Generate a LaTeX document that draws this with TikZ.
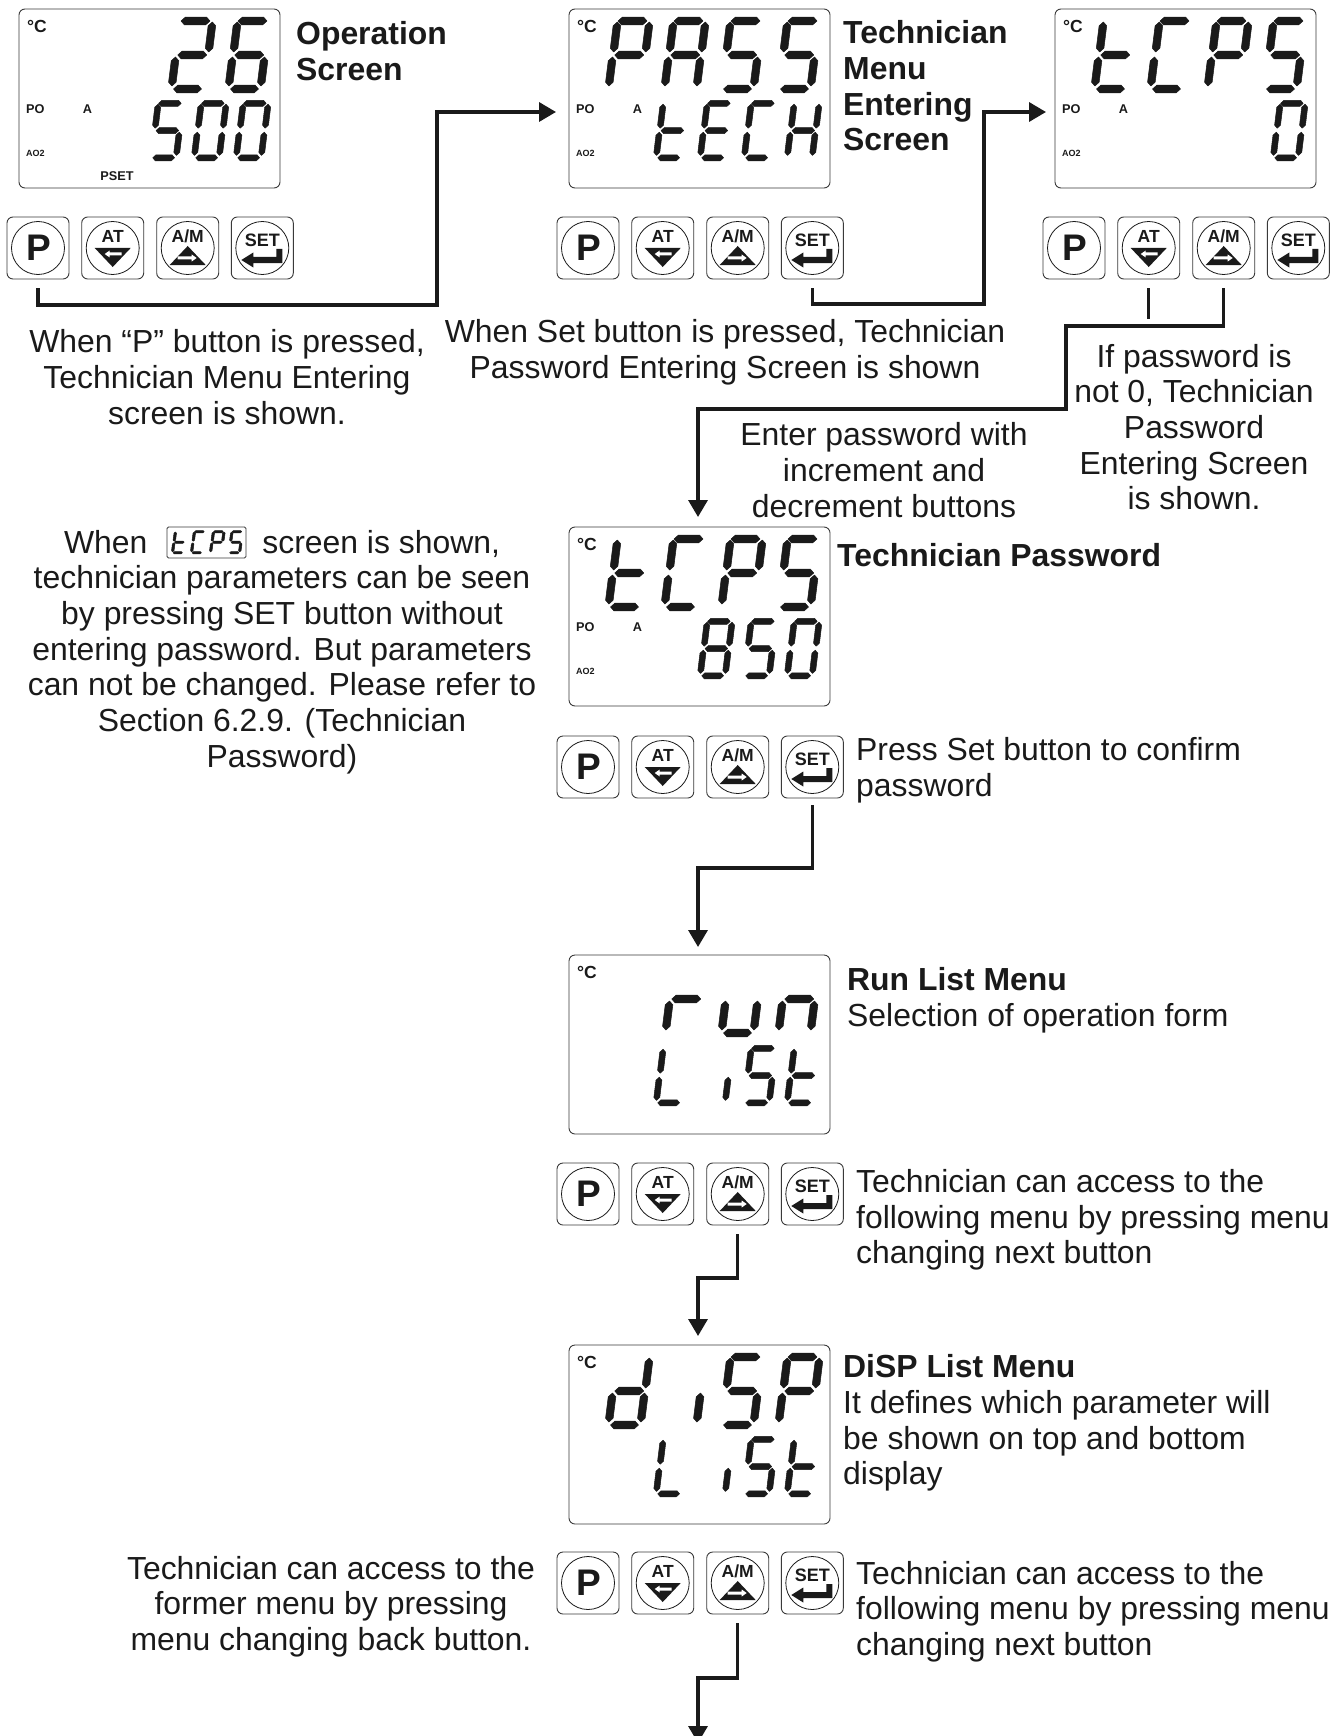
\documentclass[tikz,border=0pt]{standalone}
\usepackage{fontspec}
\setmainfont{Liberation Sans}
\usetikzlibrary{arrows.meta,positioning,calc}
\definecolor{ink}{HTML}{1A1A1A}
\definecolor{rim}{HTML}{3A3A3A}
\newcommand\lcdh[3]{(#1,#3)--(#1+3.8,#3+3.8)--(#2-3.8,#3+3.8)--(#2,#3)--(#2-3.8,#3-3.8)--(#1+3.8,#3-3.8)--cycle}
\newcommand\lcdv[3]{(#1,#2)--(#1+3.8,#2+3.8)--(#1+3.8,#3-3.8)--(#1,#3)--(#1-3.8,#3-3.8)--(#1-3.8,#2+3.8)--cycle}
\newcommand\lcda{\lcdh{2}{31}{72}}
\newcommand\lcdg{\lcdh{3}{32}{38}}
\newcommand\lcdd{\lcdh{3}{31}{4}}
\newcommand\lcdf{\lcdv{1.5}{41}{71}}
\newcommand\lcdb{\lcdv{33.5}{41}{71}}
\newcommand\lcde{\lcdv{1}{7}{36}}
\newcommand\lcdc{\lcdv{33}{7}{36}}
% \dgt{x}{baseline}{xscale}{yscale}{segments}
\newcommand\dgt[5]{\begin{scope}[shift={(#1,#2)},x=1pt,y=1pt,xscale=#3,yscale=#4,xslant=.125]
  \foreach \sgm in {#5}{\filldraw[ink,line width=.5pt,line join=round] \csname lcd\sgm\endcsname;}
\end{scope}}
\newcommand\bigd[2]{\dgt{#1}{#2}{1}{1}}
\newcommand\lowd[2]{\dgt{#1}{#2}{.78}{.8}}
\tikzset{
  lcdbox/.style={draw=rim,line width=.9pt,rounded corners=6pt,minimum width=261pt,minimum height=179pt,inner sep=0pt,fill=white},
  keybox/.style={draw=rim,line width=.9pt,rounded corners=6pt,minimum width=62pt,minimum height=62pt,inner sep=0pt},
  keyring/.style={draw=ink,line width=.8pt,circle,minimum size=53pt,inner sep=0pt},
  conn/.style={draw=ink,line width=3.4pt,miter limit=10},
  startgap/.style={shorten <=9pt},
  tip/.style={-{Triangle[length=17pt,width=19pt]}},
  body/.style={inner sep=0pt,font=\fontsize{31.9}{35.7}\selectfont,text=ink},
  bodyc/.style={body,align=center},
  bodyl/.style={body,align=left,anchor=west},
  head/.style={bodyl,font=\fontsize{31.9}{35.7}\selectfont\bfseries},
  hd/.style={inner sep=0pt,font=\fontsize{17.5}{20}\selectfont\bfseries,text=ink},
  small/.style={inner sep=0pt,font=\fontsize{12.7}{14}\selectfont\bfseries,text=ink},
  tiny/.style={inner sep=0pt,font=\fontsize{9}{10}\selectfont\bfseries,text=ink},
}
% \panel{prefix}{x}{y}
\newcommand\panel[3]{%
  \node[keybox] (#1P) at (#2+31,#3+31) {};
  \node[keybox] (#1AT) at (#2+105.7,#3+31) {};
  \node[keybox] (#1AM) at (#2+180.7,#3+31) {};
  \node[keybox] (#1SET) at (#2+255.3,#3+31) {};
  \node[keyring] (#1Pr) at (#1P) {};
  \node[keyring] (#1ATr) at (#1AT) {};
  \node[keyring] (#1AMr) at (#1AM) {};
  \node[keyring] (#1SETr) at (#1SET) {};
  \node[inner sep=0pt,font=\fontsize{37}{37}\selectfont\bfseries,text=ink,xshift=1.2pt] (#1Pt) at (#1P) {P};
  \begin{scope}[shift={(#1AT)}]
    \node[hd] (#1ATt) at (0,-12) {AT};
    \fill[ink] (-18,0)--(18,0)--(0,19)--cycle;
    \fill[white] (-8,6)--(-3,2.5)--(-3,4.5)--(9,4.5)--(9,7.5)--(-3,7.5)--(-3,9.5)--cycle;
  \end{scope}
  \begin{scope}[shift={(#1AM)}]
    \node[hd] (#1AMt) at (0,-12) {A/M};
    \fill[ink] (-18,17)--(18,17)--(0,-2)--cycle;
    \fill[white] (9,10)--(4,6.5)--(4,8.5)--(-10,8.5)--(-10,11.5)--(4,11.5)--(4,13.5)--cycle;
  \end{scope}
  \begin{scope}[shift={(#1SET)}]
    \node[hd,font=\fontsize{18}{20}\selectfont\bfseries] (#1SETt) at (0,-8) {SET};
    \fill[ink] (-21,12)--(-9,4.5)--(-9,9)--(14,9)--(14,1)--(20,1)--(20,15)--(-9,15)--(-9,19.5)--cycle;
  \end{scope}
}
% \lcdscreen{name}{x}{y}
\newcommand\lcdscreen[3]{%
  \node[lcdbox] (#1) at (#2+130.5,#3+89.5) {};
  \node[hd,anchor=west] (#1deg) at (#2+8,#3+17) {°C};
}
\newcommand\lcdmarks[3]{%
  \node[small,anchor=west] (#1po) at (#2+7,#3+99.7) {PO};
  \node[small] (#1a) at (#2+68.5,#3+99.7) {A};
  \node[tiny,anchor=west] (#1ao) at (#2+7,#3+144) {AO2};
}
\begin{document}
\begin{tikzpicture}[x=1pt,y=-1pt]
\path[use as bounding box,clip] (0,0) rectangle (1343,1736);
\fill[white] (0,0) rectangle (1343,1736);

% --- screens
\lcdscreen{s1}{19}{9}\lcdmarks{s1}{19}{9}
\node[small] (s1pset) at (117,176) {PSET};
\lcdscreen{s2}{569}{9}\lcdmarks{s2}{569}{9}
\lcdscreen{s3}{1055}{9}\lcdmarks{s3}{1055}{9}
\lcdscreen{s4}{569}{527}\lcdmarks{s4}{569}{527}
\lcdscreen{s5}{569}{955}
\lcdscreen{s6}{569}{1345}

% --- digits: 26 / 500
\bigd{170}{93}{a,b,g,e,d}
\bigd{227}{93}{a,f,g,e,c,d}
\lowd{150}{161}{a,f,g,c,d}
\lowd{193}{161}{a,b,c,d,e,f}
\lowd{235}{161}{a,b,c,d,e,f}
% PASS / tECH
\bigd{607}{93}{a,b,f,g,e}
\bigd{663}{93}{a,b,c,e,f,g}
\bigd{720}{93}{a,f,g,c,d}
\bigd{777}{93}{a,f,g,c,d}
\lowd{655}{161}{f,e,g,d}
\lowd{699}{161}{a,f,g,e,d}
\lowd{743}{161}{a,f,e,d}
\lowd{786}{161}{f,b,g,e,c}
% tCPS / 0
\bigd{1093}{93}{f,e,g,d}
\bigd{1149}{93}{a,f,e,d}
\bigd{1206}{93}{a,b,f,g,e}
\bigd{1263}{93}{a,f,g,c,d}
\lowd{1272}{161}{a,b,c,d,e,f}
% tCPS / 850
\bigd{607}{611}{f,e,g,d}
\bigd{663}{611}{a,f,e,d}
\bigd{720}{611}{a,b,f,g,e}
\bigd{777}{611}{a,f,g,c,d}
\lowd{699}{679}{a,b,c,d,e,f,g}
\lowd{743}{679}{a,f,g,c,d}
\lowd{786}{679}{a,b,c,d,e,f}
% run / List
\bigd{664}{1037}{e,g}
\bigd{720}{1037}{e,d,c}
\bigd{777}{1037}{e,g,c}
\lowd{655}{1106}{f,e,d}
\lowd{699}{1106}{c}
\lowd{743}{1106}{a,f,g,c,d}
\lowd{786}{1106}{f,e,g,d}
% diSP / List
\bigd{607}{1429}{b,c,d,e,g}
\bigd{663}{1429}{c}
\bigd{720}{1429}{a,f,g,c,d}
\bigd{777}{1429}{a,b,f,g,e}
\lowd{655}{1497}{f,e,d}
\lowd{699}{1497}{c}
\lowd{743}{1497}{a,f,g,c,d}
\lowd{786}{1497}{f,e,g,d}

% --- key panels
\panel{p1}{7}{217}
\panel{p2}{557}{217}
\panel{p3}{1043}{217}
\panel{p4}{557}{736}
\panel{p5}{557}{1163}
\panel{p6}{557}{1552}

% --- connector way points
\coordinate (w1) at (437,305);
\coordinate (in2) at (556,112);
\coordinate (w2) at (984,304);
\coordinate (in3) at (1046,112);
\coordinate (stub) at (p3AT.south |- 0,319);
\coordinate (w3a) at (1066,326);
\coordinate (w3b) at (698,409);
\coordinate (in4) at (698,517);
\coordinate (w4) at (698,868);
\coordinate (in5) at (698,947);
\coordinate (w5) at (698,1278);
\coordinate (in6) at (698,1336);
\coordinate (w6) at (698,1678);
\coordinate (in7) at (698,1743);

\draw[conn,startgap,tip] (p1P.south) |- (w1) |- (in2);
\draw[conn,startgap,tip] (p2SET.south) |- (w2) |- (in3);
\draw[conn,startgap] (p3AT.south) -- (stub);
\draw[conn,startgap,tip] (p3AM.south) |- (w3a) |- (w3b) -- (in4);
\draw[conn,shorten <=7pt,tip] (p4SET.south) |- (w4) -- (in5);
\draw[conn,startgap,tip] (p5AM.south) |- (w5) -- (in6);
\draw[conn,startgap,tip] (p6AM.south) |- (w6) -- (in7);

% --- texts
\node[head] (t1) at (296,51) {Operation\\Screen};
\node[head] (t2) at (843,86) {Technician\\Menu\\Entering\\Screen};
\node[bodyc] (t3) at (227,377) {When “P” button is pressed,\\Technician Menu Entering\\screen is shown.};
\node[bodyc] (t4) at (725,352.5) {When Set button is pressed, Technician\\Password Entering Screen is shown};
\node[bodyc] (t5) at (1194,427) {If password is\\not 0, Technician\\Password\\Entering Screen\\is shown.};
\node[bodyc] (t6) at (884,470) {Enter password with\\increment and\\decrement buttons};
\node[bodyc] (t7) at (282,652) {When\hspace*{115pt}screen is shown,\\technician parameters can be seen\\by pressing SET button without\\entering password. But parameters\\can not be changed. Please refer to\\Section 6.2.9. (Technician\\Password)};
\node[head] (t8) at (837,555) {Technician Password};
\node[bodyl] (t9) at (856,770.5) {Press Set button to confirm\\password};
\node[bodyl] (t10) at (847,1000) {\textbf{Run List Menu}\\Selection of operation form};
\node[bodyl] (t11) at (856,1220) {Technician can access to the\\following menu by pressing menu\\changing next button};
\node[bodyl] (t12) at (843,1423) {\textbf{DiSP List Menu}\\It defines which parameter will\\be shown on top and bottom\\display};
\node[bodyc] (t13) at (331,1606.5) {Technician can access to the\\former menu by pressing\\menu changing back button.};
\node[bodyl] (t14) at (856,1611.5) {Technician can access to the\\following menu by pressing menu\\changing next button};

% --- inline tCPS icon
\node[draw=rim,line width=.8pt,rounded corners=1.5pt,minimum width=79pt,minimum height=31pt,inner sep=0pt] (icon) at (206.5,542.5) {};
\dgt{172}{554}{.33}{.31}{f,e,g,d}
\dgt{191}{554}{.33}{.31}{a,f,e,d}
\dgt{210}{554}{.33}{.31}{a,b,f,g,e}
\dgt{228.5}{554}{.33}{.31}{a,f,g,c,d}
\end{tikzpicture}
\end{document}
